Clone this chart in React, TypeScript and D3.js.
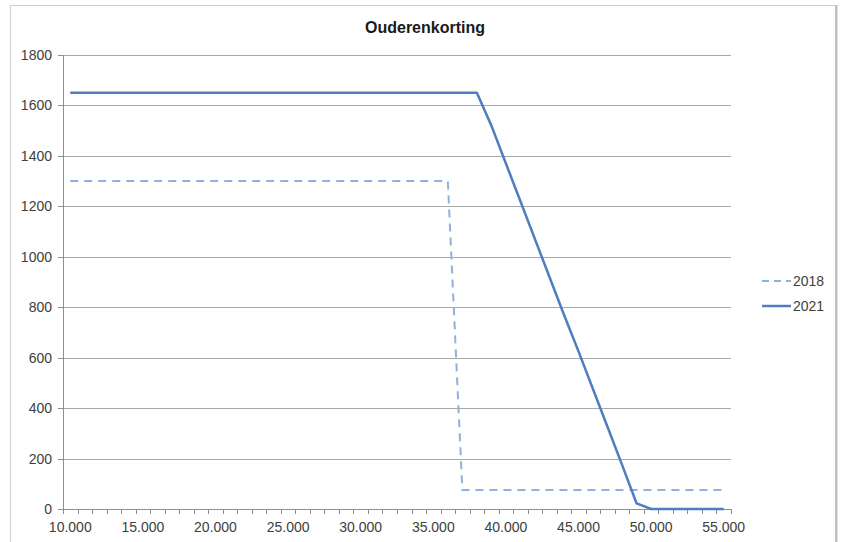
import { useEffect, useRef } from "react";
import * as d3 from "d3";

// income categories (euro), one per 1000
const categories = [
  10000, 11000, 12000, 13000, 14000, 15000, 16000, 17000, 18000, 19000,
  20000, 21000, 22000, 23000, 24000, 25000, 26000, 27000, 28000, 29000,
  30000, 31000, 32000, 33000, 34000, 35000, 36000, 37000, 38000, 39000,
  40000, 41000, 42000, 43000, 44000, 45000, 46000, 47000, 48000, 49000,
  50000, 51000, 52000, 53000, 54000, 55000,
];

const values2018 = [
  1300, 1300, 1300, 1300, 1300, 1300, 1300, 1300, 1300, 1300,
  1300, 1300, 1300, 1300, 1300, 1300, 1300, 1300, 1300, 1300,
  1300, 1300, 1300, 1300, 1300, 1300, 1300, 75, 75, 75,
  75, 75, 75, 75, 75, 75, 75, 75, 75, 75,
  75, 75, 75, 75, 75, 75,
];

const values2021 = [
  1650, 1650, 1650, 1650, 1650, 1650, 1650, 1650, 1650, 1650,
  1650, 1650, 1650, 1650, 1650, 1650, 1650, 1650, 1650, 1650,
  1650, 1650, 1650, 1650, 1650, 1650, 1650, 1650, 1650, 1520,
  1370, 1220, 1070, 920, 770, 625, 475, 325, 175, 22,
  0, 0, 0, 0, 0, 0,
];

const yTicks = [0, 200, 400, 600, 800, 1000, 1200, 1400, 1600, 1800];

const series = [
  { name: "2018", values: values2018, color: "#8fb1de", width: 2, dash: "8,6" },
  { name: "2021", values: values2021, color: "#4f7dbf", width: 2.5, dash: "none" },
];

const fmt = (v: number) => d3.format(",")(v).replace(/,/g, ".");

export default function App() {
  const svgRef = useRef<SVGSVGElement>(null);

  useEffect(() => {
    if (!svgRef.current) return;
    const svg = d3.select(svgRef.current);
    svg.selectAll("*").remove();

    const width = 843;
    const height = 542;
    const left = 63;
    const right = 731;
    const top = 55;
    const bottom = 509;
    const font = "'Liberation Sans', Arial, sans-serif";

    svg.append("rect").attr("width", width).attr("height", height).attr("fill", "#ffffff");

    // chart border
    svg.append("rect")
      .attr("x", 10.5).attr("y", 5.5)
      .attr("width", 825).attr("height", 560)
      .attr("fill", "none").attr("stroke", "#cfcfcf");
    svg.append("line")
      .attr("x1", 836.5).attr("x2", 836.5).attr("y1", 5).attr("y2", height)
      .attr("stroke", "#bdbdbd").attr("stroke-width", 2);

    const x = d3.scaleLinear().domain([-0.5, categories.length - 0.5]).range([left, right]);
    const y = d3.scaleLinear().domain([0, 1800]).range([bottom, top]);

    // gridlines
    svg.append("g")
      .selectAll("line")
      .data(yTicks.filter((t) => t > 0))
      .join("line")
      .attr("x1", left).attr("x2", right)
      .attr("y1", (d) => Math.round(y(d)) + 0.5).attr("y2", (d) => Math.round(y(d)) + 0.5)
      .attr("stroke", "#a8a8a8");

    // y axis
    const yAxis = svg.append("g");
    yAxis.append("line")
      .attr("x1", left + 0.5).attr("x2", left + 0.5)
      .attr("y1", top).attr("y2", bottom)
      .attr("stroke", "#8f8f8f");
    yAxis.selectAll("line.tick")
      .data(yTicks)
      .join("line")
      .attr("class", "tick")
      .attr("x1", left - 5).attr("x2", left)
      .attr("y1", (d) => Math.round(y(d)) + 0.5).attr("y2", (d) => Math.round(y(d)) + 0.5)
      .attr("stroke", "#8f8f8f");
    yAxis.selectAll("text")
      .data(yTicks)
      .join("text")
      .attr("x", left - 11)
      .attr("y", (d) => y(d) + 5)
      .attr("text-anchor", "end")
      .attr("font-family", font)
      .attr("font-size", 14)
      .attr("fill", "#404040")
      .text((d) => String(d));

    // x axis
    const xAxis = svg.append("g");
    xAxis.append("line")
      .attr("x1", left).attr("x2", right)
      .attr("y1", bottom + 0.5).attr("y2", bottom + 0.5)
      .attr("stroke", "#8f8f8f");
    xAxis.selectAll("line.tick")
      .data(d3.range(categories.length + 1))
      .join("line")
      .attr("class", "tick")
      .attr("x1", (i) => Math.round(x(i - 0.5)) + 0.5).attr("x2", (i) => Math.round(x(i - 0.5)) + 0.5)
      .attr("y1", bottom).attr("y2", bottom + 5)
      .attr("stroke", "#8f8f8f");
    xAxis.selectAll("text")
      .data(categories.map((c, i) => ({ c, i })).filter((d) => d.c % 5000 === 0))
      .join("text")
      .attr("x", (d) => x(d.i))
      .attr("y", bottom + 23)
      .attr("text-anchor", "middle")
      .attr("font-family", font)
      .attr("font-size", 14)
      .attr("fill", "#404040")
      .text((d) => fmt(d.c));

    // lines
    const line = d3.line<number>()
      .x((_, i) => x(i))
      .y((d) => y(d));

    series.forEach((s) => {
      svg.append("path")
        .datum(s.values)
        .attr("d", line)
        .attr("fill", "none")
        .attr("stroke", s.color)
        .attr("stroke-width", s.width)
        .attr("stroke-dasharray", s.dash)
        .attr("stroke-linejoin", "round");
    });

    // title
    svg.append("text")
      .attr("x", 425)
      .attr("y", 33)
      .attr("text-anchor", "middle")
      .attr("font-family", font)
      .attr("font-size", 16)
      .attr("font-weight", "bold")
      .attr("fill", "#1a1a1a")
      .text("Ouderenkorting");

    // legend
    const legend = svg.append("g").attr("transform", "translate(762, 281)");
    series.forEach((s, i) => {
      const item = legend.append("g").attr("transform", `translate(0, ${i * 25})`);
      item.append("line")
        .attr("x1", 0).attr("x2", 29)
        .attr("stroke", s.color)
        .attr("stroke-width", s.width)
        .attr("stroke-dasharray", s.dash === "none" ? "none" : "7,5");
      item.append("text")
        .attr("x", 31)
        .attr("y", 5)
        .attr("font-family", font)
        .attr("font-size", 14)
        .attr("fill", "#404040")
        .text(s.name);
    });
  }, []);

  return (
    <svg
      ref={svgRef}
      width={843}
      height={542}
      style={{ position: "absolute", left: 0, top: 0, display: "block" }}
    />
  );
}
